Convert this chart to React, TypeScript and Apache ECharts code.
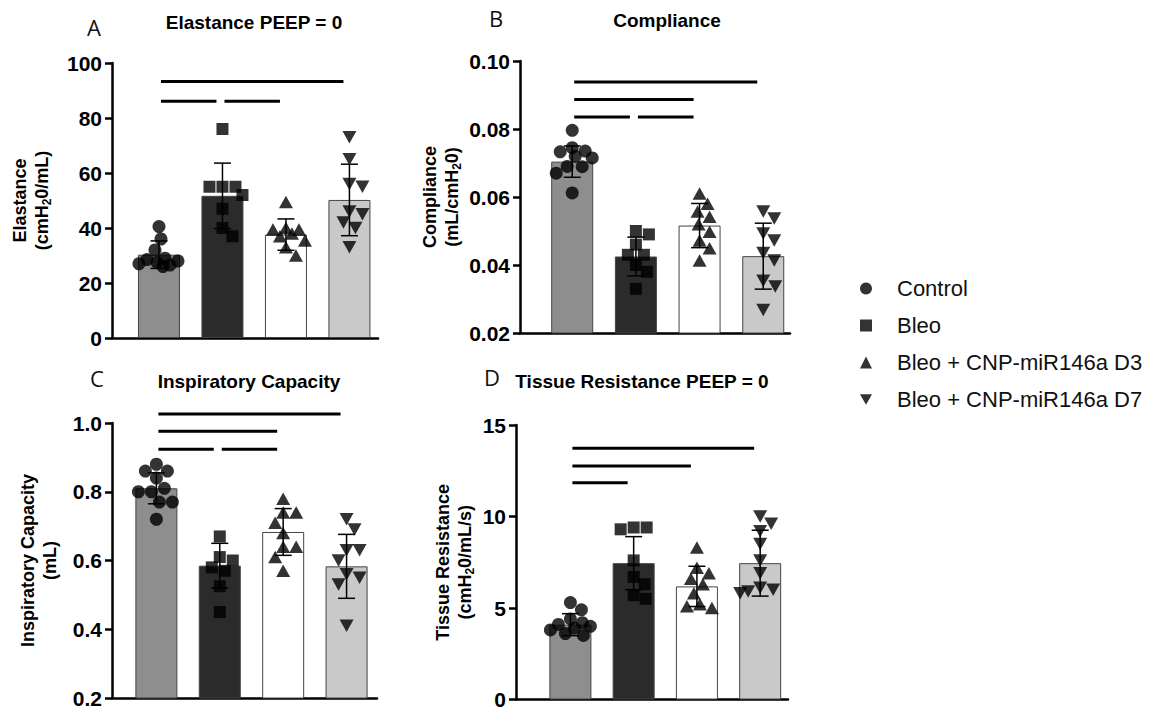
import React, { useEffect, useRef } from "react";
import * as echarts from "echarts";

// ---------- data ----------
const groups = ["Control", "Bleo", "Bleo + CNP-miR146a D3", "Bleo + CNP-miR146a D7"];

// A: Elastance PEEP = 0
const elastanceTicks = ["0", "20", "40", "60", "80", "100"];
const elastanceControl = [40.5, 36, 32, 29, 28.5, 28, 27.5, 27, 26.5, 26];
const elastanceBleo = [76, 55, 55, 55, 52, 47, 40, 37];
const elastanceD3 = [49.5, 40, 39.5, 39.5, 38, 37, 35.5, 33, 30];
const elastanceD7 = [73, 65, 56, 55, 46, 45, 42, 40, 33];
const elastanceMean = [30.3, 51.7, 37.6, 50.2];
const elastanceSD = [5, 11.9, 5.7, 13];
const elastanceSig = [[1, 4, 93.3], [1, 2, 86.1], [2, 3, 86.1]];

// B: Compliance
const complianceTicks = ["0.02", "0.04", "0.06", "0.08", "0.10"];
const complianceControl = [0.0796, 0.0745, 0.0735, 0.0733, 0.072, 0.0715, 0.069, 0.0689, 0.067, 0.0612];
const complianceBleo = [0.05, 0.049, 0.046, 0.043, 0.043, 0.04, 0.038, 0.033];
const complianceD3 = [0.061, 0.058, 0.0557, 0.0542, 0.052, 0.0498, 0.0472, 0.0449, 0.0413];
const complianceD7 = [0.0557, 0.0537, 0.0493, 0.0472, 0.0435, 0.0413, 0.0354, 0.0337, 0.0268];
const complianceMean = [0.0704, 0.0425, 0.0516, 0.0426];
const complianceSD = [0.0046, 0.0057, 0.0065, 0.0097];
const complianceSig = [[1, 4, 0.0938], [1, 3, 0.0887], [1, 2, 0.0835], [2, 3, 0.0835]];

// C: Inspiratory Capacity
const capacityTicks = ["0.2", "0.4", "0.6", "0.8", "1.0"];
const capacityControl = [0.88, 0.86, 0.86, 0.84, 0.81, 0.8, 0.8, 0.77, 0.77, 0.72];
const capacityBleo = [0.67, 0.61, 0.6, 0.58, 0.57, 0.525, 0.45];
const capacityD3 = [0.78, 0.74, 0.74, 0.71, 0.68, 0.64, 0.64, 0.61, 0.57];
const capacityD7 = [0.72, 0.69, 0.63, 0.63, 0.6, 0.56, 0.55, 0.53, 0.41];
const capacityMean = [0.81, 0.585, 0.683, 0.583];
const capacitySD = [0.045, 0.065, 0.068, 0.093];
const capacitySig = [[1, 4, 1.026], [1, 3, 0.976], [1, 2, 0.924], [2, 3, 0.924]];

// D: Tissue Resistance PEEP = 0
const resistanceTicks = ["0", "5", "10", "15"];
const resistanceControl = [5.3, 4.9, 4.4, 4.2, 4.1, 4.0, 3.9, 3.8, 3.6, 3.5];
const resistanceBleo = [9.4, 9.4, 9.3, 7.6, 6.7, 6.3, 5.7, 5.5];
const resistanceD3 = [8.3, 7.2, 6.9, 6.6, 6.3, 5.8, 5.2, 5.1, 5.0];
const resistanceD7 = [10.0, 9.6, 9.2, 8.5, 7.6, 6.9, 6.1, 6.0, 5.9, 5.8];
const resistanceMean = [4.09, 7.45, 6.18, 7.45];
const resistanceSD = [0.6, 1.45, 1.1, 1.8];
const resistanceSig = [[1, 4, 13.73], [1, 3, 12.76], [1, 2, 11.85]];

// ---------- styles / layout ----------
const FONT = '"Liberation Sans", Arial, Helvetica, sans-serif';
const barColors = ["#8e8e8e", "#2b2b2b", "#ffffff", "#c9c9c9"];
const symbols = ["circle", "rect", "triangle", "path://M0,0L10,0L5,8.66Z"];
const symbolSizes: any[] = [13, 12, [14, 12.5], [14, 12.5]];

const panels = [
  {
    letter: "A", title: "Elastance PEEP = 0",
    letterPos: [94, 27], titlePos: [254, 22],
    grid: { left: 112, top: 63, width: 266, height: 275 }, xMin: 0.26, xMax: 4.45,
    ticks: elastanceTicks, points: [elastanceControl, elastanceBleo, elastanceD3, elastanceD7],
    mean: elastanceMean, sd: elastanceSD, sig: elastanceSig,
    name: "{b|Elastance}\n{b|(cmH}{s|2}{b|0/mL)}", nameGap: 59,
  },
  {
    letter: "B", title: "Compliance",
    letterPos: [496, 18], titlePos: [667, 20],
    grid: { left: 520, top: 61, width: 270, height: 272 }, xMin: 0.18, xMax: 4.42,
    ticks: complianceTicks, points: [complianceControl, complianceBleo, complianceD3, complianceD7],
    mean: complianceMean, sd: complianceSD, sig: complianceSig,
    name: "{b|Compliance}\n{b|(mL/cmH}{s|2}{b|0)}", nameGap: 57,
  },
  {
    letter: "C", title: "Inspiratory Capacity",
    letterPos: [97, 378], titlePos: [249, 381],
    grid: { left: 112, top: 423, width: 265, height: 275 }, xMin: 0.3, xMax: 4.48,
    ticks: capacityTicks, points: [capacityControl, capacityBleo, capacityD3, capacityD7],
    mean: capacityMean, sd: capacitySD, sig: capacitySig,
    name: "{b|Inspiratory Capacity}\n{b|(mL)}", nameGap: 51,
  },
  {
    letter: "D", title: "Tissue Resistance PEEP = 0",
    letterPos: [492, 377], titlePos: [642, 381],
    grid: { left: 516, top: 425, width: 272, height: 275 }, xMin: 0.14, xMax: 4.44,
    ticks: resistanceTicks, points: [resistanceControl, resistanceBleo, resistanceD3, resistanceD7],
    mean: resistanceMean, sd: resistanceSD, sig: resistanceSig,
    name: "{b|Tissue Resistance}\n{b|(cmH}{s|2}{b|0/mL/s)}", nameGap: 40,
  },
];

// simple beeswarm: horizontal offsets (in x-axis units) so points don't pile up
function swarm(values: number[], pxPerY: number, pxPerX: number, diam: number, maxPx: number): number[] {
  const placed: { x: number; y: number }[] = [];
  const out: number[] = new Array(values.length).fill(0);
  const order = values.map((_, i) => i).sort((a, b) => values[b] - values[a]);
  for (const i of order) {
    const y = values[i] * pxPerY;
    let best = 0;
    let bestScore = -1;
    for (let k = 0; k <= maxPx * 2; k++) {
      const cand = k === 0 ? 0 : k % 2 ? Math.ceil(k / 2) : -Math.ceil(k / 2);
      let minD = Infinity;
      for (const p of placed) minD = Math.min(minD, Math.hypot(p.x - cand, p.y - y));
      if (minD >= diam) { best = cand; bestScore = Infinity; break; }
      if (minD > bestScore + 0.5) { bestScore = minD; best = cand; }
    }
    placed.push({ x: best, y });
    out[i] = best / pxPerX;
  }
  return out;
}

function buildOption() {
  const grid: any[] = [];
  const xAxis: any[] = [];
  const yAxis: any[] = [];
  const series: any[] = [];
  const graphic: any[] = [];

  panels.forEach((p, pi) => {
    const yMin = parseFloat(p.ticks[0]);
    const yMax = parseFloat(p.ticks[p.ticks.length - 1]);
    const interval = parseFloat(p.ticks[1]) - parseFloat(p.ticks[0]);
    grid.push({ ...p.grid, containLabel: false });
    xAxis.push({
      type: "value", gridIndex: pi, min: p.xMin, max: p.xMax,
      axisLine: { show: true, onZero: false, lineStyle: { color: "#000", width: 2.5 } },
      axisTick: { show: false }, axisLabel: { show: false }, splitLine: { show: false },
    });
    yAxis.push({
      type: "value", gridIndex: pi, min: yMin, max: yMax, interval,
      axisLine: { show: true, onZero: false, lineStyle: { color: "#000", width: 2.5 } },
      axisTick: { show: true, length: 7, lineStyle: { color: "#000", width: 2.5 } },
      axisLabel: {
        color: "#000", fontSize: 21, fontWeight: "bold", fontFamily: FONT, margin: 10,
        formatter: (_v: number, idx: number) => p.ticks[idx],
      },
      splitLine: { show: false },
      name: p.name, nameLocation: "middle", nameRotate: 90, nameGap: p.nameGap,
      nameTextStyle: {
        rich: {
          b: { fontSize: 18, fontWeight: "bold", fontFamily: FONT, color: "#000", lineHeight: 22 },
          s: { fontSize: 12, fontWeight: "bold", fontFamily: FONT, color: "#000", lineHeight: 12, verticalAlign: "bottom" },
        },
      },
    });

    // bars
    series.push({
      type: "bar", xAxisIndex: pi, yAxisIndex: pi, barWidth: 42, silent: true, z: 2,
      itemStyle: { borderColor: "#444", borderWidth: 1 },
      data: p.mean.map((m, k) => ({ value: [k + 1, m], itemStyle: { color: barColors[k] } })),
    });

    // points
    const pxPerY = p.grid.height / (yMax - yMin);
    const pxPerX = p.grid.width / (p.xMax - p.xMin);
    p.points.forEach((vals, k) => {
      const offs = swarm(vals, pxPerY, pxPerX, 12.5, 20);
      series.push({
        type: "scatter", name: groups[k], xAxisIndex: pi, yAxisIndex: pi, z: 4, silent: true,
        symbol: symbols[k], symbolSize: symbolSizes[k],
        itemStyle: { color: "#000" },
        data: vals.map((v, j) => [k + 1 + offs[j], v]),
      });
    });

    // error bars (mean ± SD)
    series.push({
      type: "custom", xAxisIndex: pi, yAxisIndex: pi, z: 5, silent: true,
      encode: { x: 0, y: 1 },
      data: p.mean.map((m, k) => [k + 1, m, p.sd[k]]),
      renderItem: (_params: any, api: any) => {
        const x = api.value(0), m = api.value(1), s = api.value(2);
        const top = api.coord([x, m + s]);
        const bot = api.coord([x, m - s]);
        const c = 8.5;
        const st = { stroke: "#000", lineWidth: 1.5 };
        return {
          type: "group",
          children: [
            { type: "line", shape: { x1: top[0], y1: top[1], x2: bot[0], y2: bot[1] }, style: st },
            { type: "line", shape: { x1: top[0] - c, y1: top[1], x2: top[0] + c, y2: top[1] }, style: st },
            { type: "line", shape: { x1: bot[0] - c, y1: bot[1], x2: bot[0] + c, y2: bot[1] }, style: st },
          ],
        };
      },
    });

    // significance lines
    series.push({
      type: "custom", xAxisIndex: pi, yAxisIndex: pi, z: 5, silent: true, clip: false,
      encode: { x: [0, 1], y: 2 },
      data: p.sig,
      renderItem: (_params: any, api: any) => {
        const a = api.coord([api.value(0), api.value(2)]);
        const b = api.coord([api.value(1), api.value(2)]);
        return {
          type: "line",
          shape: { x1: a[0] + 2, y1: a[1], x2: b[0] - 6, y2: b[1] },
          style: { stroke: "#000", lineWidth: 3 },
        };
      },
    });

    graphic.push({
      type: "text", x: p.letterPos[0], y: p.letterPos[1],
      style: {
        text: p.letter, font: '22px "Open Sans", "Noto Sans", sans-serif', fill: "#111",
        align: "center", verticalAlign: "middle", textAlign: "center", textVerticalAlign: "middle",
      },
    });
    graphic.push({
      type: "text", x: p.titlePos[0], y: p.titlePos[1],
      style: {
        text: p.title, font: `bold 19px ${FONT}`, fill: "#000",
        align: "center", verticalAlign: "middle", textAlign: "center", textVerticalAlign: "middle",
      },
    });
  });

  return {
    animation: false,
    backgroundColor: "#ffffff",
    grid, xAxis, yAxis, series, graphic,
    legend: {
      data: groups, orient: "vertical", left: 855, top: 271,
      itemWidth: 12, itemHeight: 12, itemGap: 12, selectedMode: false,
      textStyle: { fontSize: 22, fontFamily: FONT, color: "#111", lineHeight: 25, padding: [0, 0, 0, 20] },
    },
  };
}

export default function App() {
  const ref = useRef<HTMLDivElement>(null);
  useEffect(() => {
    if (!ref.current) return;
    const chart = echarts.init(ref.current, null, { renderer: "svg" });
    chart.setOption(buildOption() as any);
    return () => chart.dispose();
  }, []);
  return (
    <div
      ref={ref}
      style={{ position: "absolute", left: 0, top: 0, width: 1153, height: 710, background: "#fff" }}
    />
  );
}
